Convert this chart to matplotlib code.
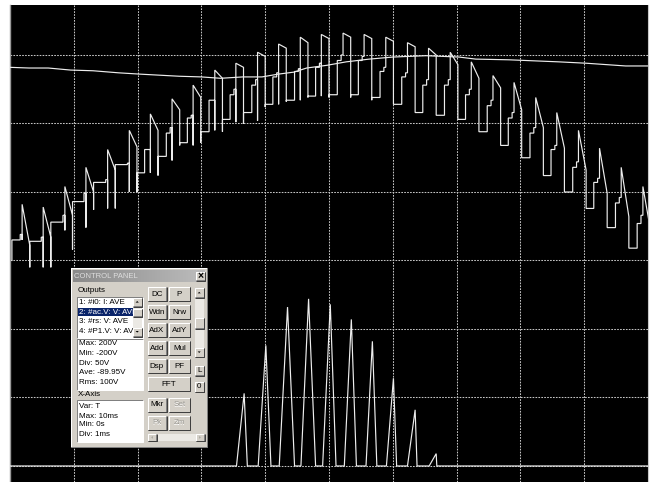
import numpy as np
import matplotlib
matplotlib.use("Agg")
import matplotlib.pyplot as plt
from matplotlib.patches import Rectangle, Polygon

# ---------------- scope traces (time in ms, values in V) ----------------
# staircase output: one record per chopping cycle, keyed by the spike instant
spike_t = [0.19, 0.52, 0.86, 1.19, 1.53, 1.87, 2.20, 2.54, 2.87, 3.21,
           3.54, 3.88, 4.21, 4.55, 4.88, 5.22, 5.55, 5.89, 6.23, 6.56,
           6.90, 7.23, 7.57, 7.90, 8.24, 8.57, 8.91, 9.24, 9.58, 9.92]
drop_floor = [0, -5, -5, 8, 37, 38, 50, 62, 84, 86,
              94, 100, 112, 116, 119, 119, 119, 117, 114, 108,
              106, 103, 94, 84, 75, 62, 50, 38, 24, 9]
step_low = [15, 14, 28, 43, 57, 70, 64, 76, 86, 94,
            103, 108, 114, 117, 120, 121, 121, 119, 114, 108,
            106, 103, 94, 84, 75, 62, 50, 38, 24, 9]
step_mid = [15, 14, 28, 43, 57, 70, 81, 93, 104, 117,
            121, 128, 134, 138, 141, 146, 146, 138, 134, 128,
            128, 121, 113, 104, 93, 81, 68, 57, 42, 27]
step_pre = [19, 17, 33, 49, 59, 71, 81, 97, 106, 117,
            125, 132, 137, 140, 144, 150, 149, 141, 137, 132,
            132, 125, 117, 108, 97, 84, 72, 60, 46, 33]
spike_dip = [15, -5, 22, 24, 38, 50, 64, 73, 84, 95,
             101, 102, 114, 117, 120, 150, 149, 141, 137, 132,
             132, 125, 117, 108, 97, 84, 72, 60, 46, 33]
spike_peak = [41, 39, 54, 68, 81, 95, 107, 118, 128, 139,
              144, 152, 158, 163, 165, 166, 165, 163, 159, 155,
              152, 145, 135, 130, 119, 108, 95, 82, 68, 54]
spike_tail = [11, 17, 33, 50, 66, 83, 95, 110, 119, 133,
              141, 149, 155, 159, 162, 163, 162, 160, 156, 150,
              143, 133, 126, 110, 97, 82, 66, 49, 32, 22]
trace_start = 0.03

# slowly varying upper trace
top_t = [0.0, 0.3, 0.6, 0.95, 1.3, 1.7, 2.05, 2.65, 3.0, 3.3, 3.65, 3.95, 4.2,
         4.45, 4.65, 4.97, 5.27, 5.63, 6.0, 6.52, 7.04, 7.3, 7.82, 8.6, 9.03,
         9.65, 10.0]
top_v = [141, 140.5, 140.5, 139, 138.5, 137, 136, 134.5, 134, 133, 134, 134,
         136, 137.5, 140.5, 142.5, 145, 147, 148.5, 149.5, 148.5, 147, 146.5,
         145, 144, 142, 142]

# current pulses riding on the bottom trace
pulse_start = [3.55, 3.89, 4.22, 4.56, 4.90, 5.24, 5.58, 5.90, 6.23, 6.57]
pulse_apex_t = [3.67, 4.01, 4.35, 4.68, 5.02, 5.35, 5.68, 6.01, 6.35, 6.68]
pulse_end = [3.72, 4.09, 4.46, 4.79, 5.11, 5.43, 5.75, 6.06, 6.38, 6.69]
pulse_peak = [-97, -62, -34, -28, -32, -43, -59, -86, -109, -141]
bottom_base = -150

# screen settings
x_range = (0.0, 10.0)
v_range = (-161.7, 186.5)
x_div = 1.0
v_div = 50.0

# waveform shape offsets within a cycle (ms)
MID_BEFORE = 0.09
PRE_BEFORE = 0.03
DROP_AFTER = 0.12

W, H = 656, 482
fig = plt.figure(figsize=(W / 100, H / 100), dpi=100, facecolor="white")
ax = fig.add_axes([10 / W, 0, 638 / W, 477 / H])
ax.set_facecolor("black")
ax.set_xlim(*x_range)
ax.set_ylim(*v_range)
ax.set_xticks([])
ax.set_yticks([])
for side in ("top", "bottom"):
    ax.spines[side].set_visible(False)
ax.spines["left"].set_color("#9a9a9a")
ax.spines["left"].set_linewidth(1.0)
ax.spines["right"].set_color("#c8c8c8")
ax.spines["right"].set_linewidth(0.8)

# dotted graticule
grid_kw = dict(color="#c4c4c4", lw=0.75, dashes=(1.6, 1.2), zorder=1)
for gx in np.arange(x_range[0] + x_div, x_range[1], x_div):
    ax.axvline(gx, **grid_kw)
for gv in np.arange(-3 * v_div, 3 * v_div + 1, v_div):
    ax.axhline(gv, **grid_kw)

trace_kw = dict(color="#ededed", lw=0.85, zorder=3, solid_joinstyle="miter")

# staircase trace
tt, vv = [], []
x0 = trace_start
for k, s in enumerate(spike_t):
    tt += [x0, x0, s - MID_BEFORE, s - MID_BEFORE, s - PRE_BEFORE,
           s - PRE_BEFORE, s, s, s, s + DROP_AFTER]
    vv += [drop_floor[k], step_low[k], step_low[k], step_mid[k], step_mid[k],
           step_pre[k], step_pre[k], spike_dip[k], spike_peak[k], spike_tail[k]]
    x0 = s + DROP_AFTER
ax.plot(tt, vv, **trace_kw)

# upper trace
ax.plot(top_t, top_v, **trace_kw)

# bottom trace with pulses
bt, bv = [x_range[0]], [bottom_base]
for a, b, c, pk in zip(pulse_start, pulse_apex_t, pulse_end, pulse_peak):
    bt += [a, b, c]
    bv += [bottom_base, pk, bottom_base]
bt.append(x_range[1])
bv.append(bottom_base)
ax.plot(bt, bv, **trace_kw)

# ---------------- control panel window ----------------
plt.rcParams["font.family"] = ["Liberation Sans", "DejaVu Sans"]
px0, py0, pw, ph = 71, 268, 137, 180
pax = fig.add_axes([px0 / W, 1 - (py0 + ph) / H, pw / W, ph / H])
pax.set_xlim(0, pw)
pax.set_ylim(ph, 0)
pax.axis("off")

FACE = "#d4d0c8"
LW = 0.72
TXT = 5.8


def bevel(x, y, w, h, raised=True, face=FACE, z=2):
    pax.add_patch(Rectangle((x, y), w, h, facecolor=face, edgecolor="none", zorder=z))
    light, dark = ("#ffffff", "#808080") if raised else ("#808080", "#ffffff")
    pax.plot([x, x, x + w], [y + h, y, y], color=light, lw=LW, zorder=z + 0.1,
             solid_capstyle="butt")
    pax.plot([x, x + w, x + w], [y + h, y + h, y], color=dark, lw=LW, zorder=z + 0.1,
             solid_capstyle="butt")
    if raised:
        pax.plot([x + 0.2, x + w + 0.6, x + w + 0.6], [y + h + 0.6, y + h + 0.6, y],
                 color="#404040", lw=LW, zorder=z + 0.1, solid_capstyle="butt")


def label(x, y, s, size=TXT, color="black", ha="left", weight="normal", z=5):
    pax.text(x, y, s, fontsize=size, color=color, ha=ha, va="center",
             fontweight=weight, zorder=z)


def arrow(cx, cy, direction, z=6, size=2.0, color="black"):
    if direction == "up":
        pts = [(cx - size, cy + size / 2), (cx + size, cy + size / 2), (cx, cy - size / 2)]
    elif direction == "down":
        pts = [(cx - size, cy - size / 2), (cx + size, cy - size / 2), (cx, cy + size / 2)]
    elif direction == "left":
        pts = [(cx + size / 2, cy - size), (cx + size / 2, cy + size), (cx - size / 2, cy)]
    else:
        pts = [(cx - size / 2, cy - size), (cx - size / 2, cy + size), (cx + size / 2, cy)]
    pax.add_patch(Polygon(pts, closed=True, facecolor=color, edgecolor="none", zorder=z))


# window frame
bevel(0, 0, pw - 1, ph - 1, raised=True)

# title bar
grad = np.linspace(0, 1, 64)[None, :]
pax.imshow(grad, cmap=matplotlib.colors.LinearSegmentedColormap.from_list(
    "tb", ["#8a8a8a", "#bcbcbc"]), extent=(2, pw - 3, 14.5, 2.5),
    aspect="auto", zorder=3)
pax.set_xlim(0, pw)
pax.set_ylim(ph, 0)
label(3.5, 8.7, "CONTROL PANEL", size=5.5, color="#dedede")
bevel(125, 4, 8.5, 8, raised=True, z=4)
label(129.3, 8.2, "×", size=7.5, ha="center", weight="bold", z=6)

# outputs list
label(7, 23, "Outputs")
bevel(6, 28.5, 66, 41, raised=False, face="white")
pax.add_patch(Rectangle((7, 40.2), 54.5, 8.2, facecolor="#0a246a", edgecolor="none", zorder=4))
outputs = ["1: #i0: I: AVE", "2: #ac.V: V: AVE", "3: #rs: V: AVE", "4: #P1.V: V: AVE"]
for i, (s, yy) in enumerate(zip(outputs, [34.8, 44.3, 53.8, 63.3])):
    label(8, yy, s, color="white" if i == 1 else "black")
pax.add_patch(Rectangle((61.5, 29.5), 9.8, 39, facecolor="#ebe9e4", edgecolor="none", zorder=5.5))
bevel(61.5, 29.5, 9.3, 8.5, z=5.6)
arrow(66.2, 33.8, "up", z=6, size=1.6)
bevel(61.5, 40.5, 9.3, 7.5, z=5.6)
bevel(61.5, 59.5, 9.3, 8.5, z=5.6)
arrow(66.2, 63.8, "down", z=6, size=1.6)

# output details
bevel(6, 70.5, 66, 51, raised=False, face="white")
for s, yy in zip(["Max: 200V", "Min: -200V", "Div: 50V", "Ave: -89.95V", "Rms: 100V"],
                 [75.5, 85.3, 95.1, 104.9, 114.7]):
    label(8, yy, s)

# x-axis details
label(7, 127, "X-Axis")
bevel(6, 132, 66, 42, raised=False, face="white")
for s, yy in zip(["Var: T", "Max: 10ms", "Min: 0s", "Div: 1ms"],
                 [139, 148, 157, 166]):
    label(8, yy, s)

# buttons
col = [(76.5, 18.5), (98, 20.5)]
rows = [(19, ("DC", "P")), (37, ("Wdn", "Nrw")), (55, ("AdX", "AdY")),
        (73, ("Add", "Mul")), (91, ("Dsp", "PF"))]
for top, names in rows:
    for (cx, cw), name in zip(col, names):
        bevel(cx, top, cw, 13.5, z=3)
        label(cx + cw / 2, top + 7, name, ha="center", z=5)
bevel(76.5, 109, 42, 13.5, z=3)
label(97.5, 116, "FFT", ha="center", z=5)
for top, names, enabled in [(130, ("Mkr", "Set"), (True, False)),
                            (148, ("Pk", "Zm"), (False, False))]:
    for (cx, cw), name, en in zip(col, names, enabled):
        bevel(cx, top, cw, 13.5, z=3)
        if not en:
            label(cx + cw / 2 + 0.5, top + 7.5, name, ha="center", color="white", z=4.8)
        label(cx + cw / 2, top + 7, name, ha="center",
              color="black" if en else "#9c9a94", z=5)

# right-hand scroll bar and small buttons
pax.add_patch(Rectangle((124, 20), 8.5, 69, facecolor="#ebe9e4", edgecolor="none", zorder=3))
bevel(124, 20, 8.5, 9, z=3.5)
arrow(128.2, 24.6, "up", size=1.5)
bevel(124, 49.5, 8.5, 10.5, z=3.5)
bevel(124, 79.5, 8.5, 9, z=3.5)
arrow(128.2, 84.2, "down", size=1.5)
bevel(124, 98, 8.5, 9, z=3.5)
label(128.3, 102.6, "L", ha="center")
bevel(124, 114, 8.5, 9.5, z=3.5)
label(128.3, 119, "0", ha="center")

# bottom scroll bar
pax.add_patch(Rectangle((77, 166), 56, 7, facecolor="#ebe9e4", edgecolor="none", zorder=3))
bevel(77, 166, 8, 6.8, z=3.5)
arrow(81, 169.4, "left", size=1.4, color="#9c9a94")
bevel(125, 166, 8, 6.8, z=3.5)
arrow(129, 169.4, "right", size=1.4, color="#9c9a94")

fig.savefig("out.png", dpi=100, facecolor="white")
